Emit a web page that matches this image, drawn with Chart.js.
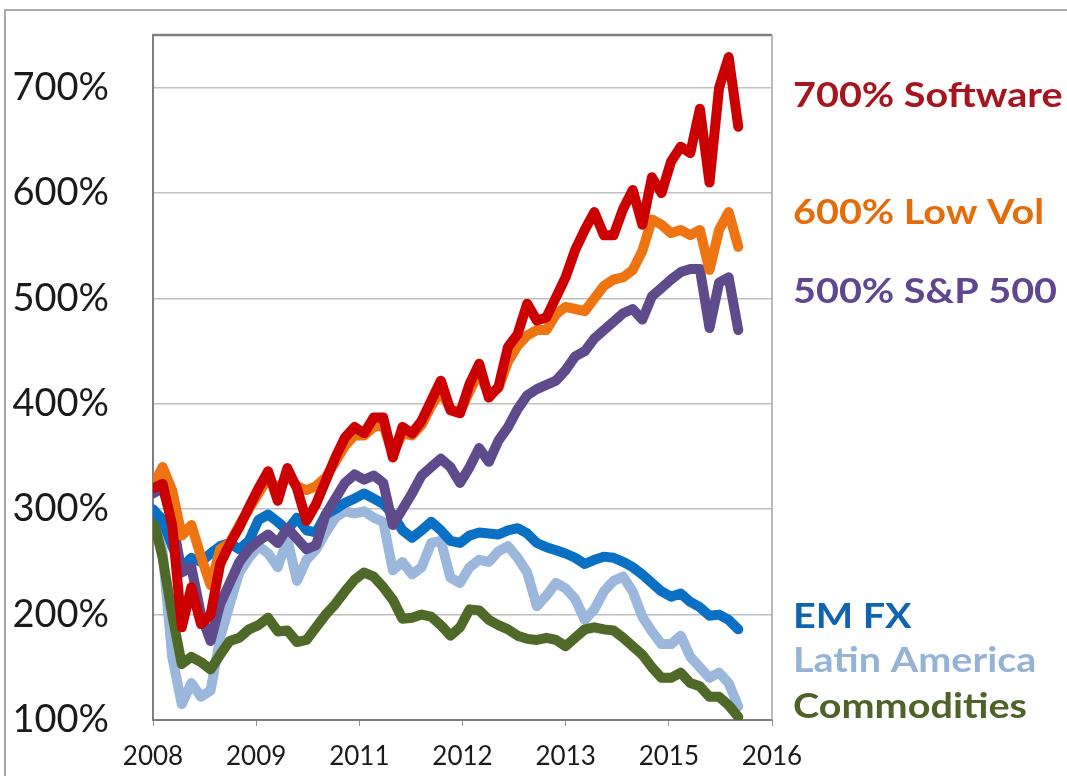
<!DOCTYPE html>
<html>
<head>
<meta charset="utf-8">
<script src="https://cdn.jsdelivr.net/npm/chart.js@4/dist/chart.umd.min.js"></script>
<style>
  html, body { margin: 0; padding: 0; background: #fff; }
  canvas { display: block; }
</style>
</head>
<body>
<canvas id="perfChart" width="1067" height="776"></canvas>
<script>
// sample dates (decimal years), roughly every 1.5 months from 2008 to mid 2015
const dates = Array.from({ length: 62 }, (_, i) => 2008 + i * 0.124);

// axis ticks
const xTickPositions = [2008, 2009 + 1 / 3, 2010 + 2 / 3, 2012, 2013 + 1 / 3, 2014 + 2 / 3, 2016];
const xTickLabels = ['2008', '2009', '2011', '2012', '2013', '2015', '2016'];
const yTickValues = [100, 200, 300, 400, 500, 600, 700];

// series values (%)
const software = [320, 324, 285, 188, 226, 191, 200, 248, 267, 283,
  302, 320, 336, 308, 339, 320, 289, 305, 327, 349,
  368, 378, 372, 387, 387, 349, 378, 372, 384, 403,
  422, 394, 391, 419, 438, 406, 416, 454, 466, 495,
  479, 482, 501, 520, 546, 565, 582, 560, 560, 585,
  603, 570, 615, 600, 630, 644, 638, 680, 610, 700,
  729, 663];
const lowVol = [322, 340, 318, 275, 285, 255, 228, 262, 268, 285,
  300, 315, 330, 318, 332, 322, 318, 322, 330, 345,
  360, 370, 370, 378, 380, 352, 372, 370, 380, 398,
  412, 395, 392, 412, 430, 408, 415, 440, 455, 465,
  470, 470, 485, 492, 490, 488, 500, 512, 518, 520,
  527, 545, 575, 570, 562, 565, 560, 565, 527, 565,
  582, 549];
const sp500 = [315, 320, 290, 240, 245, 200, 175, 210, 230, 250,
  262, 270, 276, 268, 282, 272, 262, 266, 295, 310,
  325, 333, 328, 332, 325, 285, 300, 315, 332, 340,
  348, 340, 325, 340, 358, 345, 365, 378, 395, 408,
  414, 418, 422, 432, 445, 450, 462, 470, 478, 486,
  490, 480, 502, 510, 518, 525, 528, 528, 472, 515,
  520, 470];
const emFx = [300, 290, 265, 245, 254, 250, 258, 265, 268, 262,
  270, 290, 295, 288, 280, 292, 280, 278, 295, 300,
  306, 310, 315, 310, 305, 295, 280, 273, 280, 288,
  280, 270, 268, 275, 278, 277, 276, 280, 282, 277,
  268, 264, 261, 258, 254, 248, 252, 255, 254, 250,
  245, 238, 230, 222, 217, 220, 212, 207, 199, 200,
  195, 186];
const latAm = [298, 260, 160, 115, 135, 122, 128, 178, 210, 240,
  254, 265, 258, 245, 272, 232, 252, 262, 278, 292,
  298, 296, 298, 292, 288, 242, 250, 238, 245, 268,
  270, 235, 230, 245, 252, 250, 260, 265, 254, 240,
  208, 218, 230, 225, 215, 195, 205, 222, 232, 236,
  222, 198, 184, 172, 172, 180, 160, 150, 140, 145,
  135, 113];
const commodities = [292, 254, 200, 153, 160, 155, 148, 162, 175, 178,
  186, 190, 197, 184, 185, 174, 176, 188, 200, 210,
  222, 233, 240, 236, 226, 214, 196, 197, 200, 198,
  190, 180, 188, 205, 204, 195, 190, 186, 180, 177,
  176, 178, 176, 170, 178, 186, 188, 186, 185, 178,
  170, 162, 150, 140, 140, 145, 135, 132, 122, 122,
  114, 103];

const toPoints = values => values.map((v, i) => ({ x: dates[i], y: v }));

// labels written at the right of the plot
const endLabels = [
  { text: '700% Software', color: '#a8141e', y: 107 },
  { text: '600% Low Vol', color: '#e46c0a', y: 224 },
  { text: '500% S&P 500', color: '#5f4690', y: 303 },
  { text: 'EM FX', color: '#0e64b0', y: 628 },
  { text: 'Latin America', color: '#95b3d7', y: 672 },
  { text: 'Commodities', color: '#4f6228', y: 718 }
];

const framePlugin = {
  id: 'frame',
  beforeDraw(chart) {
    const c = chart.ctx;
    c.save();
    c.fillStyle = '#fff';
    c.fillRect(0, 0, chart.width, chart.height);
    c.restore();
  },
  afterDraw(chart) {
    const c = chart.ctx;
    const a = chart.chartArea;
    c.save();
    // outer box
    c.strokeStyle = '#8c8c8c';
    c.lineWidth = 1.5;
    c.beginPath();
    c.moveTo(5, 776);
    c.lineTo(5, 10);
    c.lineTo(1067, 10);
    c.stroke();
    // top and right border of the plot
    c.strokeStyle = '#7f7f7f';
    c.lineWidth = 2.5;
    c.beginPath();
    c.moveTo(a.left, a.top);
    c.lineTo(a.right, a.top);
    c.stroke();
    c.strokeStyle = '#a6a6a6';
    c.lineWidth = 1.5;
    c.beginPath();
    c.moveTo(a.right, a.top);
    c.lineTo(a.right, a.bottom);
    c.stroke();
    // end labels
    c.font = 'bold 35px Lato';
    c.textBaseline = 'alphabetic';
    endLabels.forEach(l => {
      c.save();
      c.translate(793, l.y);
      c.scale(1.13, 1);
      c.fillStyle = l.color;
      c.fillText(l.text, 0, 0);
      c.restore();
    });
    c.restore();
  }
};

const noPad = s => {
  s.paddingTop = 0;
  s.paddingBottom = 0;
  s.paddingLeft = 0;
  s.paddingRight = 0;
};

const ctx = document.getElementById('perfChart').getContext('2d');
new Chart(ctx, {
  type: 'line',
  data: {
    datasets: [
      { label: 'Software', data: toPoints(software), borderColor: '#cc0000' },
      { label: 'Low Vol', data: toPoints(lowVol), borderColor: '#ee7411' },
      { label: 'S&P 500', data: toPoints(sp500), borderColor: '#5f4a8b' },
      { label: 'EM FX', data: toPoints(emFx), borderColor: '#0a70c4' },
      { label: 'Commodities', data: toPoints(commodities), borderColor: '#4f6a28' },
      { label: 'Latin America', data: toPoints(latAm), borderColor: '#9bb7dc' }
    ]
  },
  options: {
    responsive: false,
    animation: false,
    devicePixelRatio: 1,
    layout: { padding: { left: 0, right: 295, top: 35, bottom: 0 } },
    elements: {
      line: { borderWidth: 10, tension: 0, borderJoinStyle: 'round', borderCapStyle: 'round' },
      point: { radius: 0 }
    },
    plugins: { legend: { display: false }, tooltip: { enabled: false } },
    scales: {
      x: {
        type: 'linear',
        min: 2008,
        max: 2016,
        afterBuildTicks: s => { s.ticks = xTickPositions.map(v => ({ value: v })); },
        afterFit: s => { s.height = 56; noPad(s); },
        grid: { drawOnChartArea: false, drawTicks: true, tickLength: 6, color: '#909090' },
        border: { color: '#7f7f7f', width: 2 },
        ticks: {
          autoSkip: false,
          maxRotation: 0,
          padding: 15,
          color: '#1a1a1a',
          font: { family: 'Lato', size: 26 },
          callback: (v, i) => xTickLabels[i]
        }
      },
      y: {
        min: 100,
        max: 750,
        afterBuildTicks: s => { s.ticks = yTickValues.map(v => ({ value: v })); },
        afterFit: s => { s.width = 153; noPad(s); },
        grid: { color: '#bfbfbf', lineWidth: 1.5, drawTicks: false },
        border: { color: '#7f7f7f', width: 2 },
        ticks: {
          padding: 44,
          color: '#1a1a1a',
          font: { family: 'Lato', size: 38 },
          callback: v => v + '%'
        }
      }
    }
  },
  plugins: [framePlugin]
});
</script>
</body>
</html>
